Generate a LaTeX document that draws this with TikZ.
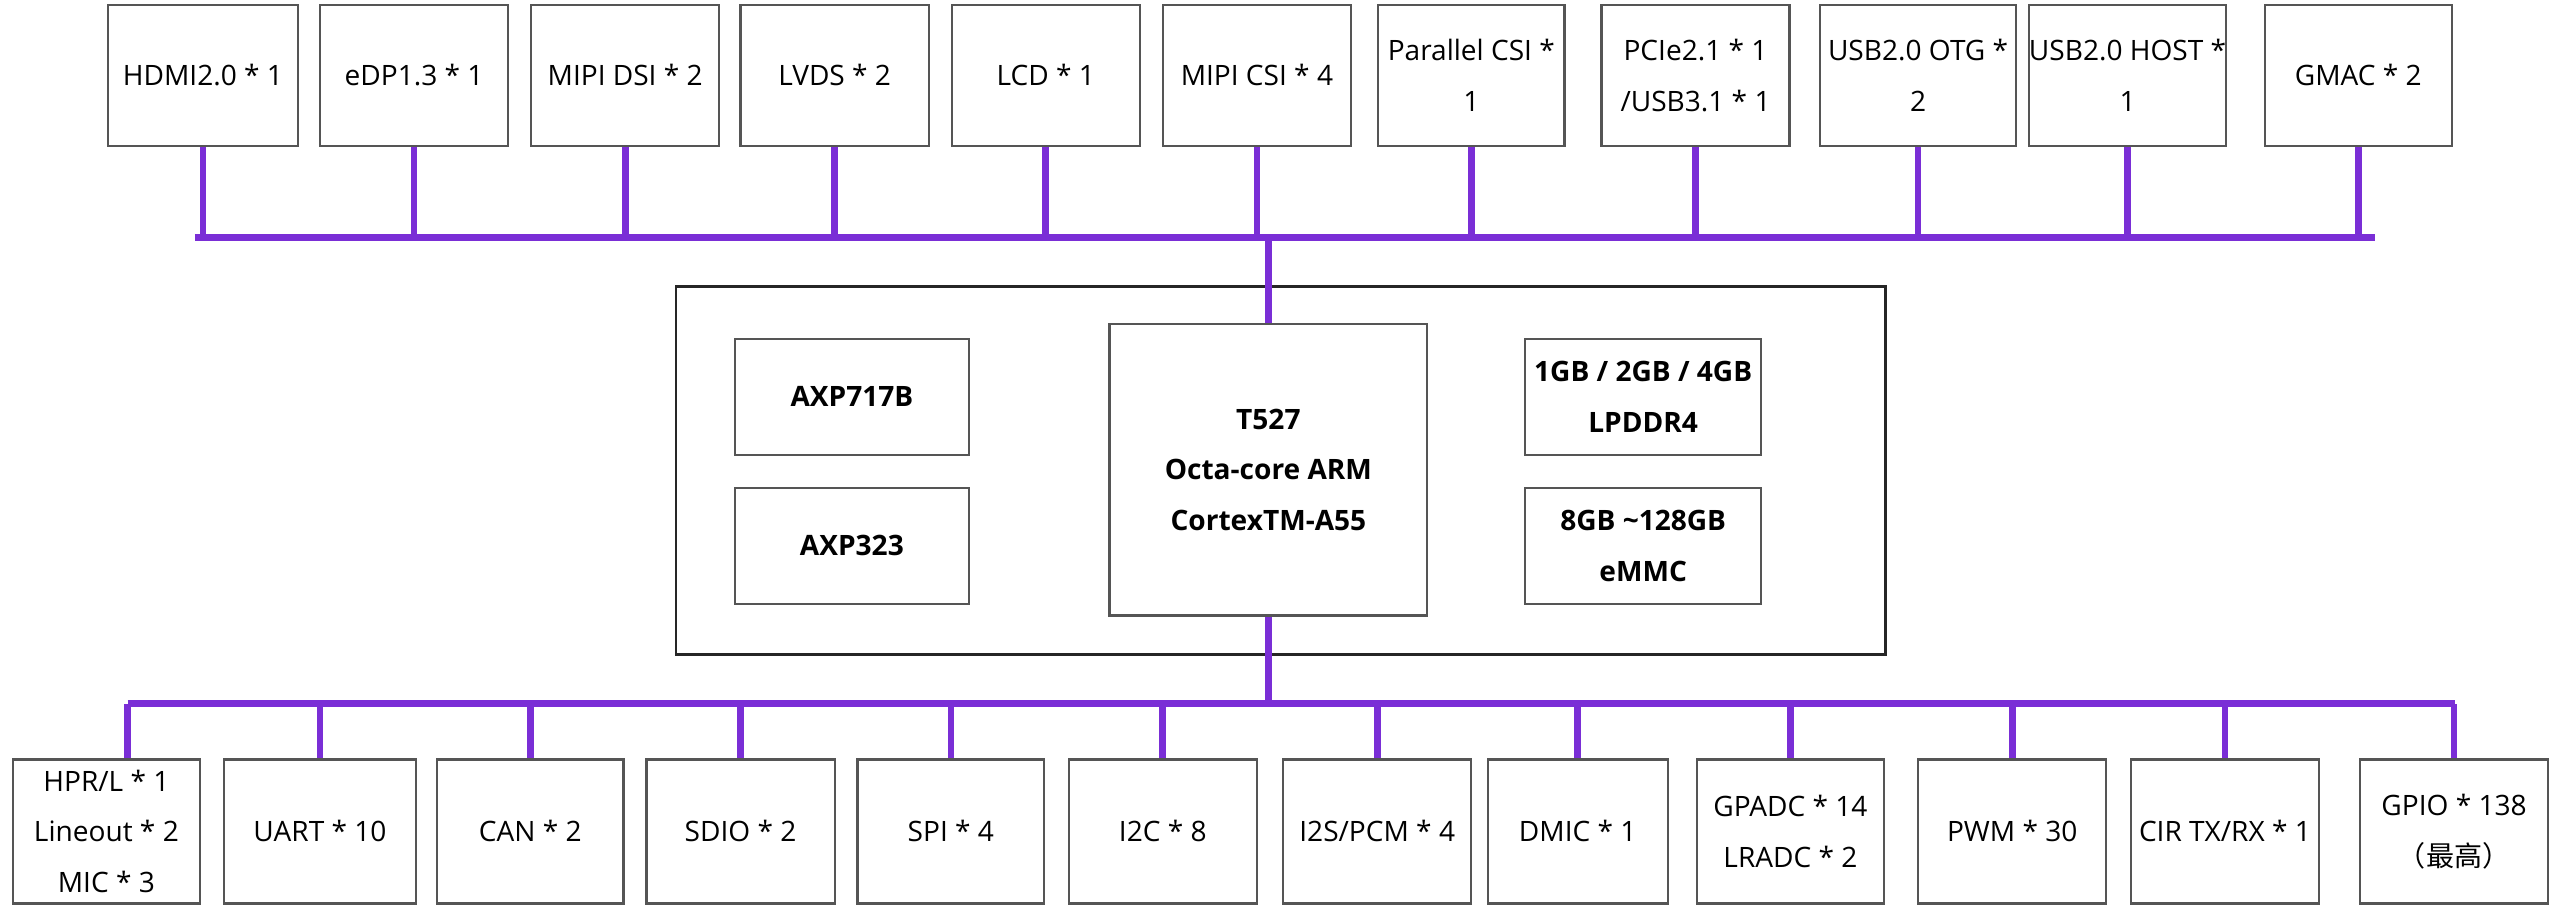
\documentclass[tikz,border=0pt]{standalone}
\usepackage{fontspec}
\setmainfont{Open Sans}
\newfontfamily\cjk{Noto Sans CJK SC}
\usetikzlibrary{positioning}
\definecolor{buspurple}{HTML}{7A2ED6}
\definecolor{boxgray}{HTML}{555555}
\tikzset{
    box/.style={draw=boxgray, line width=1pt, align=center, inner sep=0pt,
        font=\fontsize{12.2}{22}\selectfont},
    chip/.style={box, font=\fontsize{12.2}{22}\selectfont\bfseries},
    bus/.style={buspurple, line width=2.9pt}
}
\begin{document}
\begin{tikzpicture}[x=0.025cm, y=-0.025cm]
    \useasboundingbox (0,0) rectangle (1563,553);

    % Top row of interfaces
    \foreach \n/\cx/\w/\txt in {t1/124/116/{HDMI2.0 * 1}, t2/253/115/{eDP1.3 * 1},
        t3/382/115/{MIPI DSI * 2}, t4/510/115/{LVDS * 2}, t5/639/115/{LCD * 1},
        t6/768/115/{MIPI CSI * 4}, t7/899/114/{Parallel CSI *\\1},
        t8/1036/115/{PCIe2.1 * 1\\/USB3.1 * 1}, t9/1172/120/{USB2.0 OTG *\\2},
        t10/1300/120/{USB2.0 HOST *\\1}, t11/1441/114/{GMAC * 2}}
        \node[box, minimum width=\w*0.025cm, minimum height=86*0.025cm] (\n) at (\cx,46) {\txt};

    % Central board
    \node[draw=black!85, line width=1.2pt, minimum width=739*0.025cm, minimum height=225*0.025cm] (board) at (782.5,287.5) {};
    \node[chip, minimum width=194*0.025cm, minimum height=178*0.025cm] (soc) at (775,287) {T527\\Octa-core ARM\\CortexTM-A55};
    \node[chip, minimum width=143*0.025cm, minimum height=71*0.025cm] (pmu1) at (520.5,242.5) {AXP717B};
    \node[chip, minimum width=143*0.025cm, minimum height=71*0.025cm] (pmu2) at (520.5,333.5) {AXP323};
    \node[chip, minimum width=144*0.025cm, minimum height=71*0.025cm] (ram) at (1004,242.5) {1GB / 2GB / 4GB\\LPDDR4};
    \node[chip, minimum width=144*0.025cm, minimum height=71*0.025cm] (emmc) at (1004,333.5) {8GB \textasciitilde128GB\\eMMC};

    % Bottom row of interfaces
    \foreach \n/\cx/\w/\txt in {b1/65/114/{HPR/L * 1\\Lineout * 2\\MIC * 3}, b2/195.5/117/{UART * 10},
        b3/324/114/{CAN * 2}, b4/452.5/115/{SDIO * 2}, b5/581/114/{SPI * 4},
        b6/710.5/115/{I2C * 8}, b7/841.5/115/{I2S/PCM * 4}, b8/964/110/{DMIC * 1},
        b9/1094/114/{GPADC * 14\\LRADC * 2}, b10/1229.5/115/{PWM * 30},
        b11/1359.5/115/{CIR TX/RX * 1}, b12/1499.5/115/{GPIO * 138\\{\cjk （最高）}}}
        \node[box, minimum width=\w*0.025cm, minimum height=88*0.025cm] (\n) at (\cx,508) {\txt};

    % Buses
    \coordinate (topl) at (119,145);
    \coordinate (topr) at (1451,145);
    \coordinate (botl) at (78,430);
    \coordinate (botr) at (1500,430);
    \draw[bus] (topl) -- (topr);
    \draw[bus] (botl) -- (botr);
    \foreach \n in {t1,t2,t3,t4,t5,t6,t7,t8,t9,t10,t11}
        \draw[bus] (\n.south) -- (\n.south |- topl);
    \draw[bus] (botl) -- (botl |- b1.north);
    \foreach \n in {b2,b3,b4,b5,b6,b7,b8,b9,b10,b11,b12}
        \draw[bus] (\n.north) -- (\n.north |- botl);
    \draw[bus] (soc.north) -- (soc.north |- topl);
    \draw[bus] (soc.south) -- (soc.south |- botl);

\end{tikzpicture}
\end{document}
